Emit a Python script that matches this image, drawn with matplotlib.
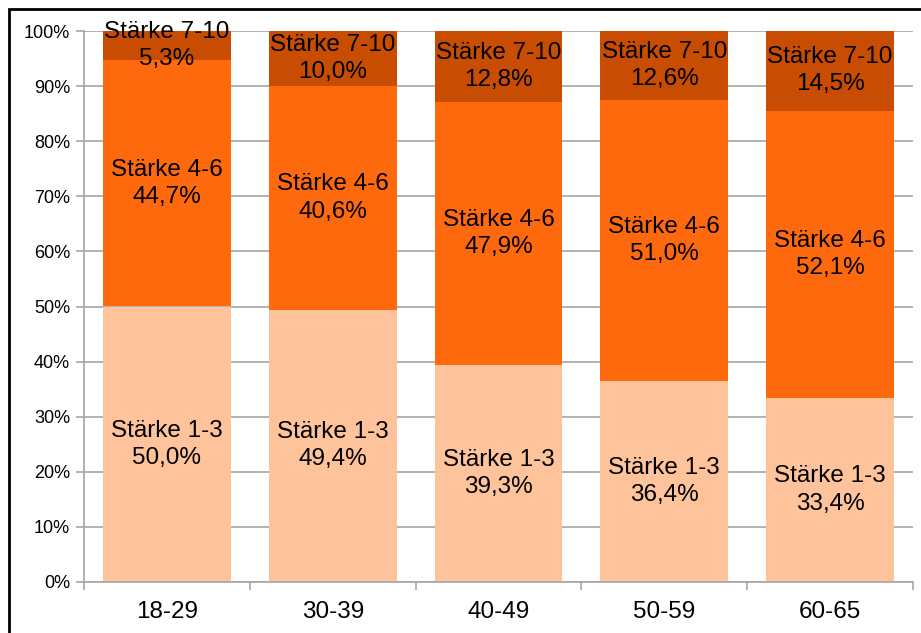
import matplotlib.pyplot as plt
from matplotlib.patches import Rectangle
import numpy as np

plt.rcParams['font.family'] = ['Liberation Sans', 'DejaVu Sans']

groups = ["18-29", "30-39", "40-49", "50-59", "60-65"]
low = [50.0, 49.4, 39.3, 36.4, 33.4]
mid = [44.7, 40.6, 47.9, 51.0, 52.1]
high = [5.3, 10.0, 12.8, 12.6, 14.5]
series_names = ["Stärke 1-3", "Stärke 4-6", "Stärke 7-10"]
colors = ["#FFC39C", "#FF690E", "#C84C02"]

fig = plt.figure(figsize=(9.21, 6.33), dpi=100)
ax = fig.add_axes([84 / 921, 1 - 582 / 633, 829 / 921, 551 / 633])

x = np.arange(len(groups))
bottom = np.zeros(len(groups))
for name, vals, col in zip(series_names, [low, mid, high], colors):
    vals = np.array(vals)
    ax.bar(x, vals, 0.77, bottom=bottom, color=col, zorder=2)
    for xi, b, v in zip(x, bottom, vals):
        txt = f"{name}\n{v:.1f}%".replace(".", ",")
        ax.text(xi, b + v / 2, txt, ha="center", va="center", fontsize=17.5,
                linespacing=1.3, zorder=3)
    bottom += vals

ax.set_xlim(-0.5, len(groups) - 0.5)
ax.set_ylim(0, 100)
ax.set_yticks(np.arange(0, 101, 10))
ax.set_yticklabels([f"{v}%" for v in range(0, 101, 10)], fontsize=13)
ax.yaxis.grid(True, color="#A6A6A6", linewidth=1.2)
ax.set_axisbelow(True)

ax.set_xticks(x)
ax.set_xticklabels(groups, fontsize=17.5)
ax.set_xticks(np.arange(-0.5, len(groups), 1), minor=True)
ax.tick_params(axis="x", which="major", length=0, pad=14)
ax.tick_params(axis="x", which="minor", length=6, color="#A6A6A6", width=1.2)
ax.tick_params(axis="y", length=6, color="#A6A6A6", width=1.2, pad=4)

for s in ["top", "right"]:
    ax.spines[s].set_visible(False)
for s in ["left", "bottom"]:
    ax.spines[s].set_color("#A6A6A6")
    ax.spines[s].set_linewidth(1.2)

# outer frame of the chart area
fig.patches.append(Rectangle((8.5 / 921, -0.1), 1.0, 1.1 - 9.5 / 633,
                             transform=fig.transFigure, fill=False,
                             edgecolor="black", linewidth=2))

fig.savefig("out.png", dpi=100)
